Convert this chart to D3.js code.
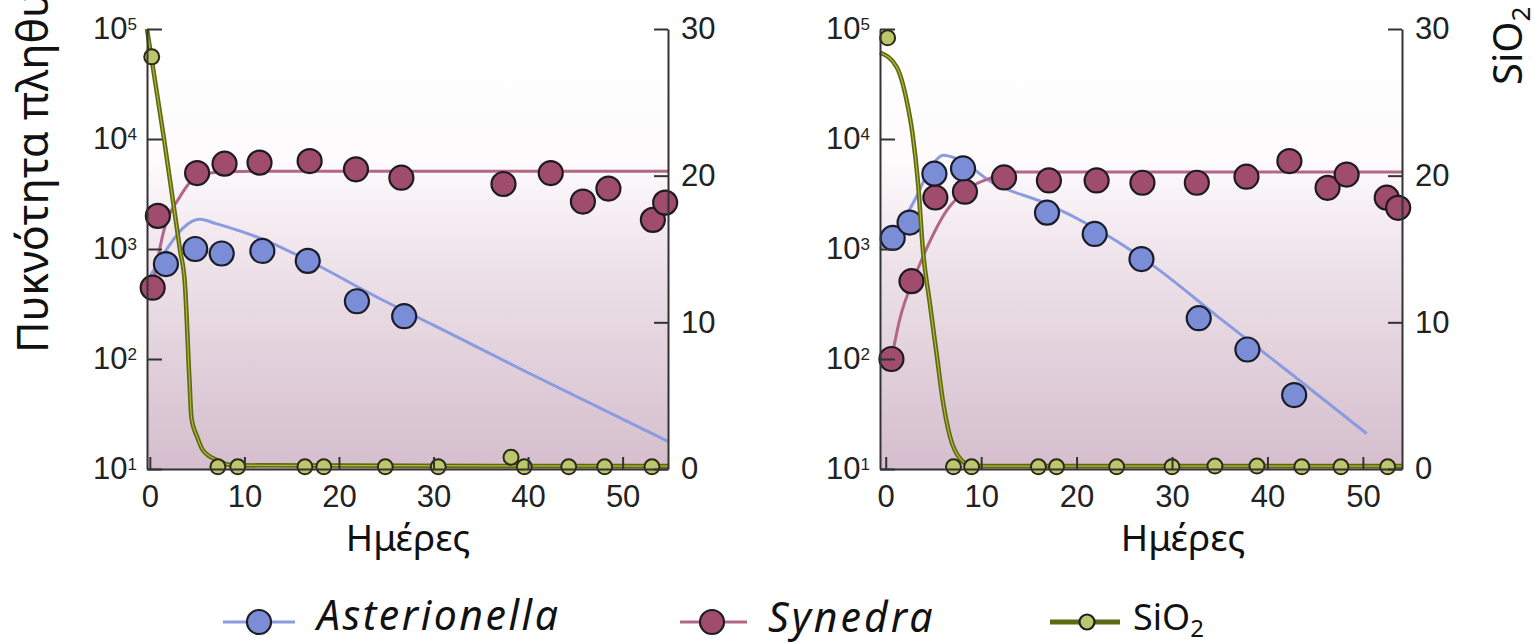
<!doctype html>
<html>
<head>
<meta charset="utf-8">
<title>Asterionella - Synedra - SiO2</title>
<script src="https://cdnjs.cloudflare.com/ajax/libs/d3/7.8.5/d3.min.js"></script>
<style>
  body { margin: 0; background: #fff; }
  .axis path, .axis line { stroke: #333; stroke-width: 2; }
  .axis text { font-family: "Liberation Sans", Arial, sans-serif; font-size: 31px; fill: #222; }
  .label { font-family: "Noto Sans", sans-serif; fill: #111; }
</style>
</head>
<body>
<div id="chart"></div>
<script>

// tick labels
const xTicks = [0, 10, 20, 30, 40, 50];
const logTicks = [10, 100, 1000, 10000, 100000];
const logExp = ["1", "2", "3", "4", "5"];
const siTicks = [0, 10, 20, 30];
const legendNames = ["Asterionella", "Synedra", "SiO"];

// left panel - measured points
const astDaysL = [1.7, 4.8, 7.6, 11.9, 16.7, 21.9, 26.9];
const astValsL = [730, 1000, 910, 960, 780, 335, 245];
const synDaysL = [0.3, 0.85, 5.0, 7.9, 11.6, 16.9, 21.8, 26.6, 37.4, 42.4, 45.8, 48.5, 53.2, 54.5];
const synValsL = [445, 2000, 4900, 5970, 6100, 6300, 5300, 4450, 3900, 4900, 2700, 3540, 1840, 2640];
const siDaysL = [0.2, 7.2, 9.3, 16.4, 18.4, 24.9, 30.5, 38.2, 39.6, 44.3, 48.1, 53.1];
const siValsL = [28.1, 0.15, 0.15, 0.15, 0.15, 0.15, 0.15, 0.8, 0.15, 0.15, 0.15, 0.15];

// left panel - fitted curves
const astCurveDaysL = [0, 1.8, 3.5, 5.3, 7, 12.2, 16.7, 24.3, 30, 40, 54.8];
const astCurveValsL = [560, 1000, 1550, 1860, 1700, 1200, 790, 355, 203, 75, 17.8];
const synCurveDaysL = [0.3, 1.4, 3.2, 5.3, 8, 12, 54.8];
const synCurveValsL = [450, 1380, 3000, 4700, 5050, 5100, 5100];
const siCurveDaysL = [-0.3, 1.5, 3.2, 3.7, 4.2, 4.4, 5.0, 5.6, 7.1, 9, 54.8];
const siCurveValsL = [30, 22.5, 14.9, 12.7, 5.9, 3.5, 2.2, 1.3, 0.6, 0.25, 0.2];

// right panel - measured points
const astDaysR = [0.73, 2.5, 5.1, 8.1, 16.9, 21.9, 26.8, 32.8, 37.9, 42.8];
const astValsR = [1260, 1740, 4840, 5400, 2140, 1370, 810, 235, 122, 47];
const synDaysR = [0.6, 2.7, 5.2, 8.3, 12.4, 17.1, 22.1, 26.9, 32.6, 37.8, 42.3, 46.3, 48.3, 52.5, 53.7];
const synValsR = [100, 510, 2940, 3320, 4470, 4200, 4200, 4000, 4000, 4540, 6300, 3600, 4750, 2930, 2370];
const siDaysR = [0.2, 7.1, 9.0, 16.0, 17.9, 24.2, 30.0, 34.5, 38.9, 43.6, 47.7, 52.6];
const siValsR = [29.4, 0.15, 0.15, 0.15, 0.15, 0.15, 0.15, 0.2, 0.2, 0.15, 0.15, 0.15];

// right panel - fitted curves
const astCurveDaysR = [-0.6, 1, 3, 5, 6, 7.5, 11.2, 16.9, 21.9, 27.7, 35, 42, 50.4];
const astCurveValsR = [1000, 1380, 2750, 6000, 7100, 6600, 4000, 2570, 1550, 740, 235, 79, 21];
const synCurveDaysR = [0.6, 1.5, 2.9, 3.9, 6.4, 8.5, 11.2, 13.3, 54.1];
const synCurveValsR = [100, 235, 525, 850, 2240, 3470, 4470, 5010, 5010];
const siCurveDaysR = [-0.6, 1.15, 2.2, 2.8, 3.4, 3.9, 4.6, 5.3, 6.0, 6.7, 7.8, 9.1, 54.1];
const siCurveValsR = [28.4, 27.4, 25.1, 22.9, 19.4, 14.9, 11.4, 8.0, 4.6, 2.3, 0.7, 0.2, 0.2];

const colors = {
  ast: { fill: "#7b8dd6", line: "#8a9be0" },
  syn: { fill: "#9f4c6d", line: "#b36685" },
  si:  { fill: "#bcc66c", line: "#5b6a14" }
};

const yTop = 29, yBottom = 469;

const svg = d3.select("#chart").append("svg")
  .attr("width", 1535)
  .attr("height", 644);

// background wash of the plot areas
const grad = svg.append("defs").append("linearGradient")
  .attr("id", "bg").attr("x1", 0).attr("y1", 0).attr("x2", 0).attr("y2", 1);
[[0, "#ffffff"], [0.3, "#fdfbfc"], [0.47, "#f2e8ee"], [0.72, "#e3d3dd"], [1, "#d5becd"]]
  .forEach(s => grad.append("stop").attr("offset", s[0]).attr("stop-color", s[1]));

const panels = [
  { left: 147, right: 668, dom: [-0.3, 54.8], labelX: 408,
    ast: [astDaysL, astValsL, astCurveDaysL, astCurveValsL],
    syn: [synDaysL, synValsL, synCurveDaysL, synCurveValsL],
    si:  [siDaysL, siValsL, siCurveDaysL, siCurveValsL] },
  { left: 880, right: 1402, dom: [-0.6, 54.1], labelX: 1183,
    ast: [astDaysR, astValsR, astCurveDaysR, astCurveValsR],
    syn: [synDaysR, synValsR, synCurveDaysR, synCurveValsR],
    si:  [siDaysR, siValsR, siCurveDaysR, siCurveValsR] }
];

function drawPanel(p) {
  const x = d3.scaleLinear().domain(p.dom).range([p.left, p.right]);
  const y = d3.scaleLog().domain([10, 100000]).range([yBottom, yTop]);
  const ys = d3.scaleLinear().domain([0, 30]).range([yBottom, yTop]);

  svg.append("rect")
    .attr("x", p.left).attr("y", yTop)
    .attr("width", p.right - p.left).attr("height", yBottom - yTop)
    .attr("fill", "url(#bg)");

  const g = svg.append("g");

  const lineLog = d3.line().x(d => x(d[0])).y(d => y(d[1])).curve(d3.curveMonotoneX);
  const lineSi = d3.line().x(d => x(d[0])).y(d => ys(d[1])).curve(d3.curveMonotoneX);

  g.append("path").datum(d3.zip(p.ast[2], p.ast[3])).attr("d", lineLog)
    .attr("fill", "none").attr("stroke", colors.ast.line).attr("stroke-width", 3);
  g.append("path").datum(d3.zip(p.syn[2], p.syn[3])).attr("d", lineLog)
    .attr("fill", "none").attr("stroke", colors.syn.line).attr("stroke-width", 3);

  g.selectAll(".syn").data(d3.zip(p.syn[0], p.syn[1])).join("circle")
    .attr("class", "syn")
    .attr("cx", d => x(d[0])).attr("cy", d => y(d[1])).attr("r", 12)
    .attr("fill", colors.syn.fill).attr("stroke", "#1e1a22").attr("stroke-width", 2.2);
  g.selectAll(".ast").data(d3.zip(p.ast[0], p.ast[1])).join("circle")
    .attr("class", "ast")
    .attr("cx", d => x(d[0])).attr("cy", d => y(d[1])).attr("r", 12)
    .attr("fill", colors.ast.fill).attr("stroke", "#1a1c2a").attr("stroke-width", 2.2);

  // silica curve drawn on top, with a thin yellow core
  const siPts = d3.zip(p.si[2], p.si[3]);
  g.append("path").datum(siPts).attr("d", lineSi)
    .attr("fill", "none").attr("stroke", colors.si.line).attr("stroke-width", 4.5);
  g.append("path").datum(siPts).attr("d", lineSi)
    .attr("fill", "none").attr("stroke", "#b9b833").attr("stroke-width", 1.2);

  g.selectAll(".si").data(d3.zip(p.si[0], p.si[1])).join("circle")
    .attr("class", "si")
    .attr("cx", d => x(d[0])).attr("cy", d => ys(d[1])).attr("r", 7.5)
    .attr("fill", colors.si.fill).attr("stroke", "#2a2a14").attr("stroke-width", 2);

  // axes
  const gl = svg.append("g").attr("class", "axis")
    .attr("transform", `translate(${p.left},0)`)
    .call(d3.axisLeft(y).tickValues(logTicks).tickSize(-15).tickSizeOuter(0).tickPadding(10).tickFormat(""));
  gl.selectAll(".tick text").each(function (d, i) {
    const t = d3.select(this);
    t.append("tspan").text("10");
    t.append("tspan").attr("dy", "-0.55em").style("font-size", "17px").text(logExp[i]);
  });

  svg.append("g").attr("class", "axis")
    .attr("transform", `translate(${p.right},0)`)
    .call(d3.axisRight(ys).tickValues(siTicks).tickSize(-14).tickSizeOuter(0).tickPadding(13));

  svg.append("g").attr("class", "axis")
    .attr("transform", `translate(0,${yBottom})`)
    .call(d3.axisBottom(x).tickValues(xTicks).tickSize(-12).tickSizeOuter(0).tickPadding(16));

  svg.append("text").attr("class", "label")
    .attr("x", p.labelX).attr("y", 551)
    .attr("text-anchor", "middle").style("font-size", "37px")
    .text("Ημέρες");
}

panels.forEach(drawPanel);

// side titles
svg.append("text").attr("class", "label")
  .attr("transform", "translate(48,353) rotate(-90)")
  .style("font-size", "43px")
  .text("Πυκνότητα πληθυσμού");

const si = svg.append("text").attr("class", "label")
  .attr("transform", "translate(1522,85) rotate(-90)")
  .style("font-size", "40px")
  .text("SiO");
si.append("tspan").attr("dy", "0.3em").style("font-size", "26px").text("2");

// legend
const legendPos = [
  { x1: 223, x2: 295, cx: 259, r: 12, tx: 317, ty: 630, c: colors.ast, w: 3, italic: true, size: 41, ls: 2.5 },
  { x1: 680, x2: 747, cx: 712, r: 12, tx: 768, ty: 632, c: colors.syn, w: 3, italic: true, size: 41, ls: 3 },
  { x1: 1050, x2: 1120, cx: 1087, r: 7.5, tx: 1133, ty: 630, c: colors.si, w: 5, italic: false, size: 36, ls: 0 }
];

legendPos.forEach((l, i) => {
  svg.append("line").attr("x1", l.x1).attr("x2", l.x2).attr("y1", 622).attr("y2", 622)
    .attr("stroke", l.c.line).attr("stroke-width", l.w);
  svg.append("circle").attr("cx", l.cx).attr("cy", 622).attr("r", l.r)
    .attr("fill", l.c.fill).attr("stroke", "#1e1e24").attr("stroke-width", 2.2);
  const t = svg.append("text").attr("class", "label")
    .attr("x", l.tx).attr("y", l.ty)
    .style("font-size", l.size + "px")
    .style("letter-spacing", l.ls + "px")
    .style("font-style", l.italic ? "italic" : "normal")
    .text(legendNames[i]);
  if (i == 2) t.append("tspan").attr("dy", "0.3em").style("font-size", "24px").text("2");
});

</script>
</body>
</html>
